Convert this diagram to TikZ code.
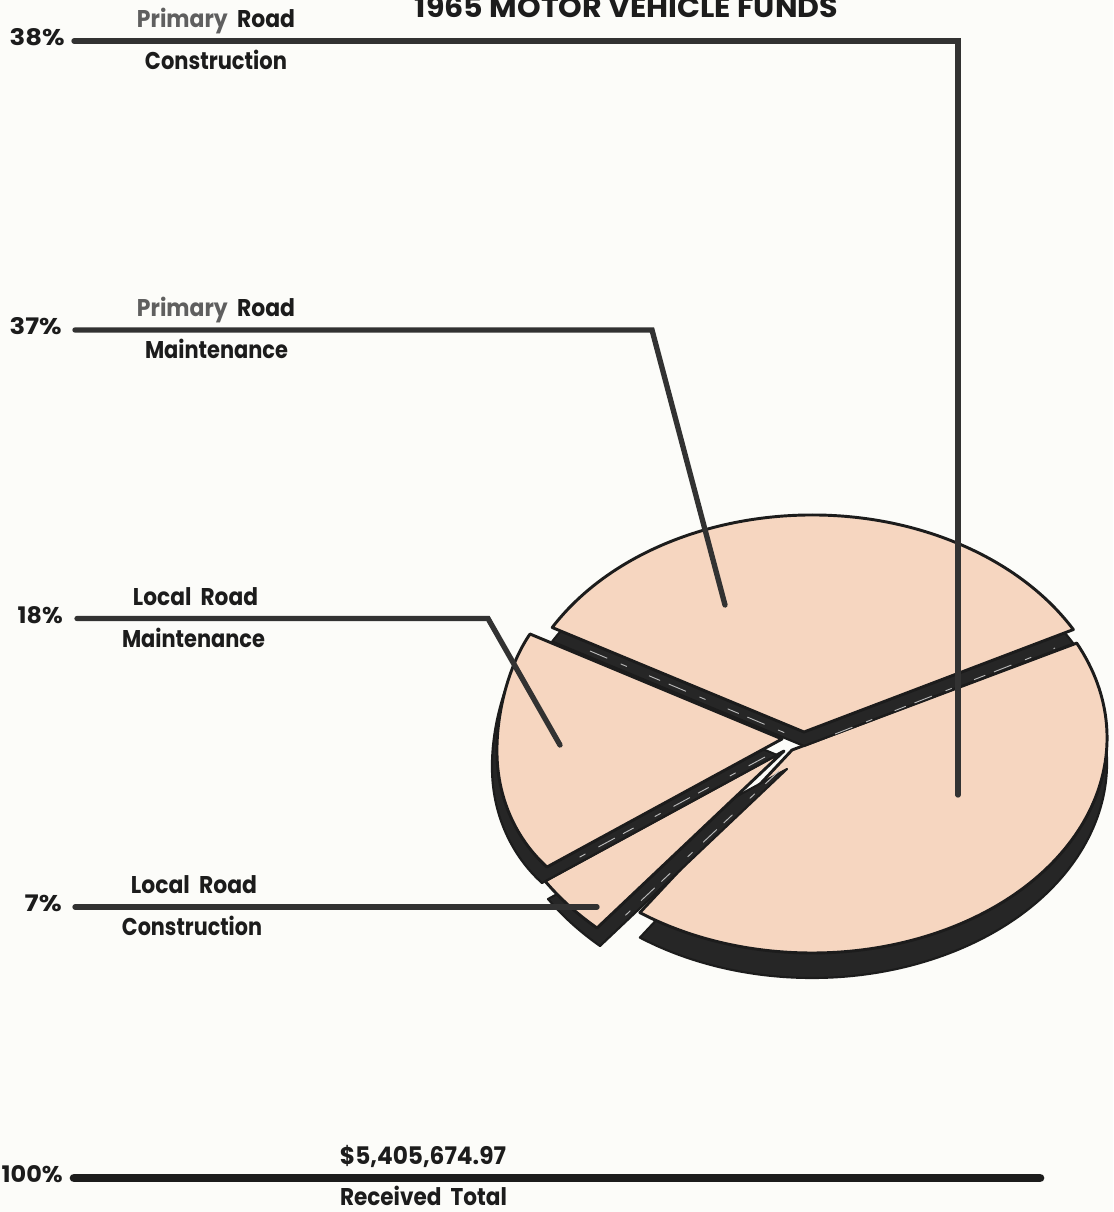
\documentclass[tikz,border=0pt]{standalone}
\usepackage{fontspec}
\setmainfont{Poppins}
\usepackage{graphicx}
\usetikzlibrary{calc}
\newdimen\px \px=0.75pt
\newcommand\fit[3]{\resizebox{#1\px}{#2\px}{\vphantom{H}\smash{#3}}}
\definecolor{pie}{RGB}{246,214,192}
\definecolor{band}{RGB}{38,38,38}
\definecolor{lead}{RGB}{50,50,50}
\definecolor{ink}{RGB}{28,28,28}
\definecolor{paper}{RGB}{252,252,249}
\definecolor{greyink}{RGB}{95,95,95}
\begin{document}
\begin{tikzpicture}[x=0.75pt,y=-0.75pt,
  lbl/.style={inner sep=0pt, text=ink, font=\bfseries, anchor=base},
  pct/.style={inner sep=0pt, text=ink, font=\bfseries, anchor=base east},
  leader/.style={draw=lead, line width=4pt, line cap=round, line join=miter},
  face/.style={fill=pie, draw=ink, line width=2.2pt, line join=round},
  side/.style={fill=band, draw=ink, line width=1.6pt, line join=round},
  hl/.style={draw=gray!55, line width=0.7pt, dash pattern=on 14pt off 11pt on 5pt off 18pt on 9pt off 7pt},
  pBig/.style={insert path={(792,750) -- ($(812,738)+(-26.2:295 and 215)$)
      arc[start angle=-26.2,end angle=125.7,x radius=295,y radius=215] -- cycle}},
  pTop/.style={insert path={(804,732) -- ($(812,740)+(-150:300 and 225)$)
      arc[start angle=-150,end angle=-29.4,x radius=300,y radius=225] -- cycle}},
  pEight/.style={insert path={(782,739) -- (530,634) .. controls (508,666) and (496,715) .. (497,755)
      .. controls (498,800) and (517,840) .. (547,867) -- cycle}},
  pSeven/.style={insert path={(784,751) -- (545,881) .. controls (562,901) and (580,916) .. (597,928) -- cycle}},
]
\fill[paper] (0,0) rectangle (1113,1212);
\useasboundingbox (0,0) rectangle (1113,1212);

% ---- pie slices (back to front)
\path[side, shift={(0,25)}, pBig];
\path[face, pBig];
\path[side, shift={(3,18)}, pSeven];
\path[face, pSeven];
\path[side, shift={(-5,16)}, pEight];
\path[face, pEight];
\path[side, shift={(0,14)}, pTop];
\path[face, pTop];

% faint highlights on the side faces
\draw[hl] (590,651) -- (790,735);
\draw[hl] (835,734) -- (1055,648);
\draw[hl] (765,757) -- (565,865);
\draw[hl] (779,771) -- (613,927);

% ---- leaders
\coordinate (s38) at (74,41);   \coordinate (c38) at (958,41);  \coordinate (e38) at (958,795);
\coordinate (s37) at (75,330);  \coordinate (c37) at (652,330); \coordinate (e37) at (725,605);
\coordinate (s18) at (77,618.5);\coordinate (c18) at (488,618.5); \coordinate (e18) at (560,745);
\coordinate (s7) at (75,907);   \coordinate (e7) at (597,907);
\coordinate (s100) at (74,1178); \coordinate (e100) at (1040,1178);
\draw[leader] (s38) -- (c38) -- (e38);
\draw[leader] (s37) -- (c37) -- (e37);
\draw[leader] (s18) -- (c18) -- (e18);
\draw[leader] (s7) -- (e7);
\draw[leader, draw=ink, line width=6.5pt] (s100) -- (e100);

% ---- texts
\node[lbl] (title) at (626.5,18) {\fit{423}{20}{1965 MOTOR VEHICLE FUNDS}};

\node[pct] (p38) at (65,45.5) {\fit{55}{16}{38\%}};
\node[lbl] (t38a) at (216,27.5) {\fit{158}{17}{\textcolor{greyink}{Primary}\ \ Road}};
\node[lbl] (t38b) at (216,69.5) {\fit{142}{17}{Construction}};

\node[pct] (p37) at (62,334.5) {\fit{52}{16}{37\%}};
\node[lbl] (t37a) at (216,316.5) {\fit{158}{17}{\textcolor{greyink}{Primary}\ \ Road}};
\node[lbl] (t37b) at (216.5,358.5) {\fit{143}{17}{Maintenance}};

\node[pct] (p18) at (63,623) {\fit{45}{16}{18\%}};
\node[lbl] (t18a) at (195.5,605) {\fit{125}{17}{Local\ \ Road}};
\node[lbl] (t18b) at (193.5,647) {\fit{143}{17}{Maintenance}};

\node[pct] (p7) at (62,911.5) {\fit{37}{16}{7\%}};
\node[lbl] (t7a) at (194,893.5) {\fit{126}{17}{Local\ \ Road}};
\node[lbl] (t7b) at (192,935.5) {\fit{140}{17}{Construction}};

\node[pct] (p100) at (63,1182.5) {\fit{61}{16}{100\%}};
\node[lbl] (tot) at (423,1164) {\fit{166}{17}{\$5,405,674.97}};
\node[lbl] (rec) at (423.5,1205) {\fit{167}{17}{Received\ \ Total}};
\end{tikzpicture}
\end{document}
